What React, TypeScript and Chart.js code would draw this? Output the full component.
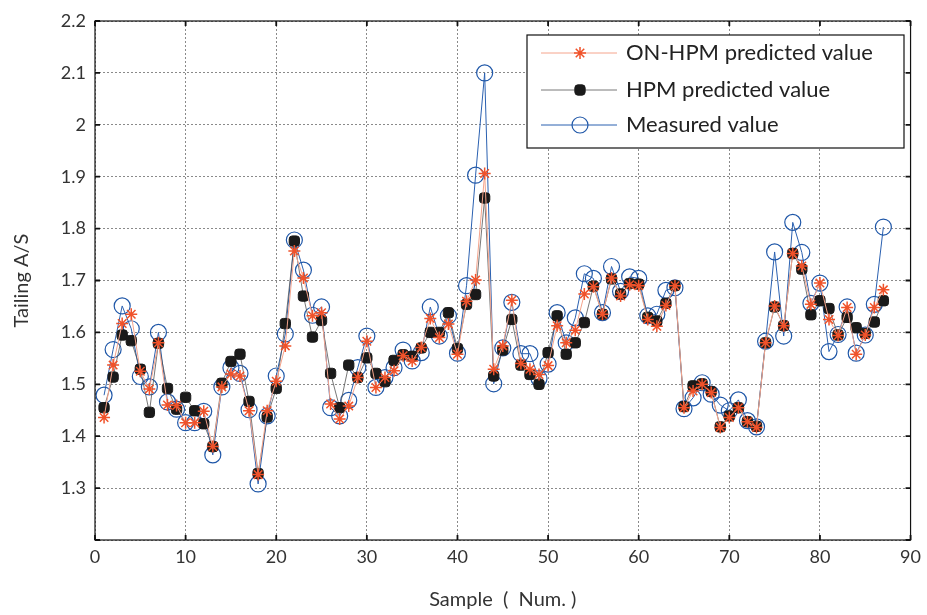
import { useEffect, useRef } from 'react';
import { Chart, registerables } from 'chart.js';
import { drawPoint } from 'chart.js/helpers';

Chart.register(...registerables);

const samples = [
  1, 2, 3, 4, 5, 6, 7, 8, 9, 10, 11, 12, 13, 14, 15, 16, 17, 18, 19, 20,
  21, 22, 23, 24, 25, 26, 27, 28, 29, 30, 31, 32, 33, 34, 35, 36, 37, 38, 39, 40,
  41, 42, 43, 44, 45, 46, 47, 48, 49, 50, 51, 52, 53, 54, 55, 56, 57, 58, 59, 60,
  61, 62, 63, 64, 65, 66, 67, 68, 69, 70, 71, 72, 73, 74, 75, 76, 77, 78, 79, 80,
  81, 82, 83, 84, 85, 86, 87,
];

const onHpmValues = [
  1.436, 1.537, 1.617, 1.635, 1.525, 1.491, 1.58, 1.46, 1.459, 1.426,
  1.426, 1.448, 1.38, 1.495, 1.52, 1.516, 1.449, 1.326, 1.449, 1.506,
  1.574, 1.757, 1.705, 1.632, 1.638, 1.462, 1.433, 1.458, 1.513, 1.583,
  1.494, 1.513, 1.526, 1.555, 1.545, 1.571, 1.627, 1.59, 1.616, 1.558,
  1.66, 1.701, 1.906, 1.529, 1.574, 1.662, 1.54, 1.529, 1.519, 1.536,
  1.613, 1.58, 1.604, 1.674, 1.688, 1.635, 1.705, 1.67, 1.692, 1.69,
  1.625, 1.612, 1.652, 1.69, 1.455, 1.487, 1.5, 1.484, 1.417, 1.436,
  1.455, 1.428, 1.417, 1.58, 1.651, 1.613, 1.752, 1.728, 1.654, 1.695,
  1.625, 1.594, 1.648, 1.558, 1.595, 1.648, 1.682,
];

const hpmValues = [
  1.455, 1.514, 1.595, 1.584, 1.529, 1.446, 1.579, 1.492, 1.452, 1.475,
  1.449, 1.424, 1.38, 1.502, 1.544, 1.558, 1.467, 1.328, 1.437, 1.492,
  1.617, 1.776, 1.67, 1.591, 1.623, 1.521, 1.455, 1.537, 1.513, 1.551,
  1.521, 1.505, 1.546, 1.557, 1.554, 1.57, 1.6, 1.6, 1.638, 1.569,
  1.654, 1.673, 1.859, 1.516, 1.566, 1.625, 1.537, 1.519, 1.5, 1.561,
  1.632, 1.558, 1.58, 1.619, 1.689, 1.635, 1.703, 1.674, 1.694, 1.693,
  1.629, 1.622, 1.656, 1.69, 1.457, 1.497, 1.501, 1.486, 1.418, 1.439,
  1.455, 1.428, 1.419, 1.58, 1.649, 1.613, 1.752, 1.722, 1.634, 1.661,
  1.646, 1.595, 1.629, 1.609, 1.598, 1.62, 1.661,
];

const measuredValues = [
  1.479, 1.567, 1.651, 1.607, 1.515, 1.495, 1.6, 1.466, 1.452, 1.426,
  1.426, 1.448, 1.364, 1.495, 1.532, 1.521, 1.451, 1.308, 1.439, 1.516,
  1.597, 1.778, 1.72, 1.633, 1.649, 1.455, 1.439, 1.469, 1.532, 1.593,
  1.494, 1.513, 1.532, 1.566, 1.545, 1.561, 1.649, 1.593, 1.632, 1.56,
  1.69, 1.903, 2.1, 1.501, 1.57, 1.658, 1.559, 1.559, 1.511, 1.539,
  1.638, 1.58, 1.628, 1.713, 1.704, 1.638, 1.727, 1.679, 1.707, 1.704,
  1.632, 1.635, 1.681, 1.686, 1.453, 1.474, 1.503, 1.481, 1.46, 1.449,
  1.47, 1.43, 1.418, 1.583, 1.755, 1.593, 1.812, 1.754, 1.656, 1.695,
  1.563, 1.596, 1.649, 1.56, 1.595, 1.654, 1.803,
];

const seriesNames = ['ON-HPM predicted value', 'HPM predicted value', 'Measured value'];
const xTitle = 'Sample  (  Num. )';
const yTitle = 'Tailing A/S';

const FONT = 'Lato, "Open Sans", sans-serif';

const toPoints = (vals: number[]) => samples.map((s, i) => ({ x: s, y: vals[i] }));

const framePlugin = {
  id: 'frame',
  afterDatasetsDraw(chart: any) {
    const { ctx, chartArea } = chart;
    const { left, right, top, bottom } = chartArea;
    ctx.save();
    ctx.strokeStyle = '#111';
    ctx.lineWidth = 1.2;
    ctx.strokeRect(left, top, right - left, bottom - top);
    const tl = 5;
    const xs = chart.scales.x;
    const ys = chart.scales.y;
    ctx.lineWidth = 1.8;
    ctx.beginPath();
    xs.ticks.forEach((t: any) => {
      const px = xs.getPixelForValue(t.value);
      ctx.moveTo(px, bottom);
      ctx.lineTo(px, bottom - tl);
      ctx.moveTo(px, top);
      ctx.lineTo(px, top + tl);
    });
    ys.ticks.forEach((t: any) => {
      const py = ys.getPixelForValue(t.value);
      ctx.moveTo(left, py);
      ctx.lineTo(left + tl, py);
      ctx.moveTo(right, py);
      ctx.lineTo(right - tl, py);
    });
    ctx.stroke();
    ctx.restore();
  },
  afterDraw(chart: any) {
    const { ctx } = chart;
    const bx = 527;
    const by = 35;
    const bw = 377;
    const bh = 113;
    ctx.save();
    ctx.fillStyle = '#fff';
    ctx.fillRect(bx, by, bw, bh);
    ctx.strokeStyle = '#111';
    ctx.lineWidth = 1.2;
    ctx.strokeRect(bx, by, bw, bh);
    const rows = [53, 90, 125];
    chart.data.datasets.forEach((ds: any, i: number) => {
      const y = rows[i];
      ctx.strokeStyle = ds.borderColor;
      ctx.lineWidth = ds.borderWidth;
      ctx.beginPath();
      ctx.moveTo(541, y);
      ctx.lineTo(617, y);
      ctx.stroke();
      ctx.fillStyle = ds.pointBackgroundColor;
      ctx.strokeStyle = ds.pointBorderColor;
      ctx.lineWidth = ds.pointBorderWidth;
      drawPoint(ctx, { pointStyle: ds.pointStyle, radius: ds.pointRadius, rotation: 0, borderWidth: ds.pointBorderWidth }, 580, y);
      ctx.fillStyle = '#222';
      ctx.font = `22px ${FONT}`;
      ctx.textBaseline = 'middle';
      ctx.textAlign = 'left';
      ctx.fillText(seriesNames[i], 626, y);
    });
    ctx.restore();
  },
};

export default function App() {
  const ref = useRef<HTMLCanvasElement | null>(null);

  useEffect(() => {
    if (!ref.current) return;
    const chart = new Chart(ref.current, {
      type: 'line',
      data: {
        datasets: [
          {
            label: seriesNames[0],
            data: toPoints(onHpmValues),
            borderColor: '#f5a48c',
            borderWidth: 1,
            pointStyle: 'star',
            pointRadius: 6,
            pointBorderColor: '#f0522a',
            pointBackgroundColor: '#f0522a',
            pointBorderWidth: 1.5,
            tension: 0,
          },
          {
            label: seriesNames[1],
            data: toPoints(hpmValues),
            borderColor: '#555',
            borderWidth: 0.8,
            pointStyle: 'rectRounded',
            pointRadius: 6,
            pointBorderColor: '#1a1a1a',
            pointBackgroundColor: '#1a1a1a',
            pointBorderWidth: 1,
            tension: 0,
          },
          {
            label: seriesNames[2],
            data: toPoints(measuredValues),
            borderColor: '#2a60b0',
            borderWidth: 1,
            pointStyle: 'circle',
            pointRadius: 8,
            pointBorderColor: '#1f57a8',
            pointBackgroundColor: 'rgba(0,0,0,0)',
            pointBorderWidth: 1.2,
            tension: 0,
          },
        ],
      },
      options: {
        animation: false,
        responsive: false,
        events: [],
        layout: { padding: { top: 21, right: 10, left: 0, bottom: 0 } },
        plugins: { legend: { display: false }, tooltip: { enabled: false } },
        scales: {
          x: {
            type: 'linear',
            min: 0,
            max: 90,
            ticks: { stepSize: 10, color: '#333', font: { family: FONT, size: 18 }, padding: 6 },
            grid: { color: '#8a8a8a', lineWidth: 1, drawTicks: false },
            border: { display: false, dash: [2, 2] },
            title: { display: true, text: xTitle, color: '#333', font: { family: FONT, size: 20 }, padding: { top: 0, bottom: 3 } },
            afterFit: (s: any) => { s.height = 75; },
          },
          y: {
            type: 'linear',
            min: 1.2,
            max: 2.2,
            ticks: {
              stepSize: 0.1,
              color: '#333',
              font: { family: FONT, size: 18 },
              padding: 9,
              callback: (v: any) => (Math.abs(v - 1.2) < 1e-6 ? '' : String(Number(Number(v).toFixed(1)))),
            },
            grid: { color: '#8a8a8a', lineWidth: 1, drawTicks: false },
            border: { display: false, dash: [2, 2] },
            title: { display: true, text: yTitle, color: '#333', font: { family: FONT, size: 20 }, padding: { top: 10, bottom: 0 } },
            afterFit: (s: any) => { s.width = 95; },
          },
        },
      },
      plugins: [framePlugin],
    });
    return () => chart.destroy();
  }, []);

  return (
    <div style={{ position: 'fixed', left: 0, top: 0, width: 927, height: 615, background: '#fff' }}>
      <canvas ref={ref} width={927} height={615} />
    </div>
  );
}
